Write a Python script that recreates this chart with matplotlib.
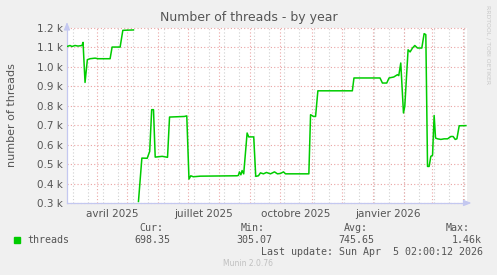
import datetime as dt
import numpy as np
import matplotlib
matplotlib.use('Agg')
import matplotlib.pyplot as plt
import matplotlib.dates as mdates

# time range of the munin "by year" graph
start = dt.datetime(2025, 3, 2)
end = dt.datetime(2026, 4, 5, 2, 0)

# days since start / number of threads (nan = no data)
day = [0, 3, 5, 8, 11, 15, 16, 18, 20.3, 23, 28, 31, 43, 45, 53, 55.7, 66.3,
       69,
       71.3, 74.7, 80, 82.5, 84.5, 86.3, 88, 95, 100.3, 102.3, 117, 119.5,
       121.7, 123.5, 126, 133, 169.7, 171, 172, 173.5, 174.7, 176.3, 179.7,
       181.3, 186.3, 188.3, 191, 193, 196, 199, 203, 207, 210, 213, 216, 218,
       241.3, 243, 246, 248, 250.3, 284.7, 286.3, 312.3, 314.7, 319, 321.3,
       326, 329.7, 331, 333, 335.7, 337, 340.3, 342.3, 344.7, 347, 349.7, 354,
       356.3, 358, 359.7, 361.3, 363, 364.7, 366.3, 367.7, 369.7, 373, 376.3,
       379.7, 383, 385.3, 387.3, 389, 391.3, 398]
threads = [1105, 1110, 1105, 1110, 1107, 1110, 1126, 920, 1037, 1042, 1045,
           1042, 1042, 1102, 1102, 1188, 1190,
           np.nan,
           308, 531, 530, 565, 780, 780, 536, 540, 535, 742, 745, 748,
           423, 440, 435, 438, 440, 442, 460, 445, 467, 450, 660,
           640, 640, 437, 440, 455, 450, 457, 450, 460, 450, 452, 460, 450,
           450, 754, 745, 745, 877, 877, 943, 943, 917, 917,
           943, 948, 960, 955, 1020, 763, 797, 1088, 1077, 1097, 1110, 1097, 1097,
           1171, 1166, 488, 488, 540, 545, 750, 634, 630, 627, 630,
           630, 642, 642, 627, 630, 697, 698]

yticks = [300, 400, 500, 600, 700, 800, 900, 1000, 1100, 1200]
ylabels = ['0.3 k', '0.4 k', '0.5 k', '0.6 k', '0.7 k', '0.8 k', '0.9 k',
           '1.0 k', '1.1 k', '1.2 k']
xlabel_dates = [dt.datetime(2025, 4, 16), dt.datetime(2025, 7, 16),
                dt.datetime(2025, 10, 16), dt.datetime(2026, 1, 16)]
xlabels = ['avril 2025', 'juillet 2025', 'octobre 2025', 'janvier 2026']

legend_name = 'threads'
cur, vmin, avg, vmax = '698.35', '305.07', '745.65', '1.46k'
last_update = 'Last update: Sun Apr  5 02:00:12 2026'

W, H = 497, 275
BG = '#f0f0f0'
GREEN = '#00cc00'
TXT = '#555555'
MGRID = '#eaa4a4'
GRID = '#cfcfcf'
AXIS = '#c4c8f0'

plt.rcParams['font.family'] = ['DejaVu Sans']
fig = plt.figure(figsize=(W / 100, H / 100), dpi=100, facecolor=BG)
ax = fig.add_axes([67 / W, 1 - 203 / H, 400 / W, 175 / H])
ax.set_facecolor('white')

x = [start + dt.timedelta(days=d) for d in day]
ax.set_xlim(start, end)
ax.set_ylim(300, 1200)

# grid: minor every 15 days (grey), months (red), values (red)
minor = [start + dt.timedelta(days=6.3 + 15 * k) for k in range(27)]
for m in minor:
    ax.axvline(m, color=GRID, lw=0.8, ls=(0, (1, 2)), zorder=1)
months = mdates.MonthLocator().tick_values(start, end)
for m in months:
    ax.axvline(m, color=MGRID, lw=0.8, ls=(0, (1, 2)), zorder=1)
for v in yticks:
    ax.axhline(v, color=MGRID, lw=0.8, ls=(0, (1, 2)), zorder=1, clip_on=False)

ax.plot(x, threads, color=GREEN, lw=1.1, zorder=3)

for s in ['top', 'right']:
    ax.spines[s].set_visible(False)
for s in ['left', 'bottom']:
    ax.spines[s].set_color(AXIS)
    ax.spines[s].set_linewidth(0.9)
ax.annotate('', xy=(0, 1.05), xytext=(0, 0.98), xycoords='axes fraction',
            arrowprops=dict(arrowstyle='-|>,head_width=0.18,head_length=0.45',
                            color=AXIS, lw=0.9))
ax.annotate('', xy=(1.018, 0), xytext=(0.99, 0), xycoords='axes fraction',
            arrowprops=dict(arrowstyle='-|>,head_width=0.18,head_length=0.45',
                            color=AXIS, lw=0.9))

ax.set_yticks(yticks)
ax.set_yticklabels(ylabels)
ax.set_xticks(xlabel_dates)
ax.set_xticklabels(xlabels)
ax.tick_params(axis='both', length=0, labelsize=7.5, colors=TXT, pad=3)
ax.tick_params(axis='x', pad=4)
ax.set_ylabel('number of threads', fontsize=8, color=TXT, labelpad=14)

fig.text(249 / W, 1 - 18 / H, 'Number of threads - by year', ha='center',
         va='center', fontsize=9, color=TXT)
fig.text(488 / W, 1 - 5 / H, 'RRDTOOL / TOBI OETIKER', ha='center', va='top',
         rotation=-90, fontsize=4.4, color='#c8c8c8')

# legend block
mono = 'DejaVu Sans Mono'
fig.patches.append(plt.Rectangle((14 / W, 1 - 243 / H), 6 / W, 6 / H,
                                 transform=fig.transFigure, color=GREEN))
fig.text(27 / W, 1 - 240 / H, legend_name, family=mono, fontsize=7.2,
         color=TXT, va='center')
cols = [(163, 'Cur:', 170, cur), (265, 'Min:', 272, vmin),
        (368, 'Avg:', 374, avg), (470, 'Max:', 482, vmax)]
for hx, head, vx, val in cols:
    fig.text(hx / W, 1 - 228 / H, head, family=mono, fontsize=7.2,
             color=TXT, va='center', ha='right')
    fig.text(vx / W, 1 - 240 / H, val, family=mono, fontsize=7.2,
             color=TXT, va='center', ha='right')
fig.text(483 / W, 1 - 252 / H, last_update, family=mono, fontsize=7.2,
         color=TXT, va='center', ha='right')
fig.text(248 / W, 1 - 264 / H, 'Munin 2.0.76', fontsize=5.5, color='#c0c0c0',
         va='center', ha='center')

fig.savefig('out.png', dpi=100, facecolor=BG)
